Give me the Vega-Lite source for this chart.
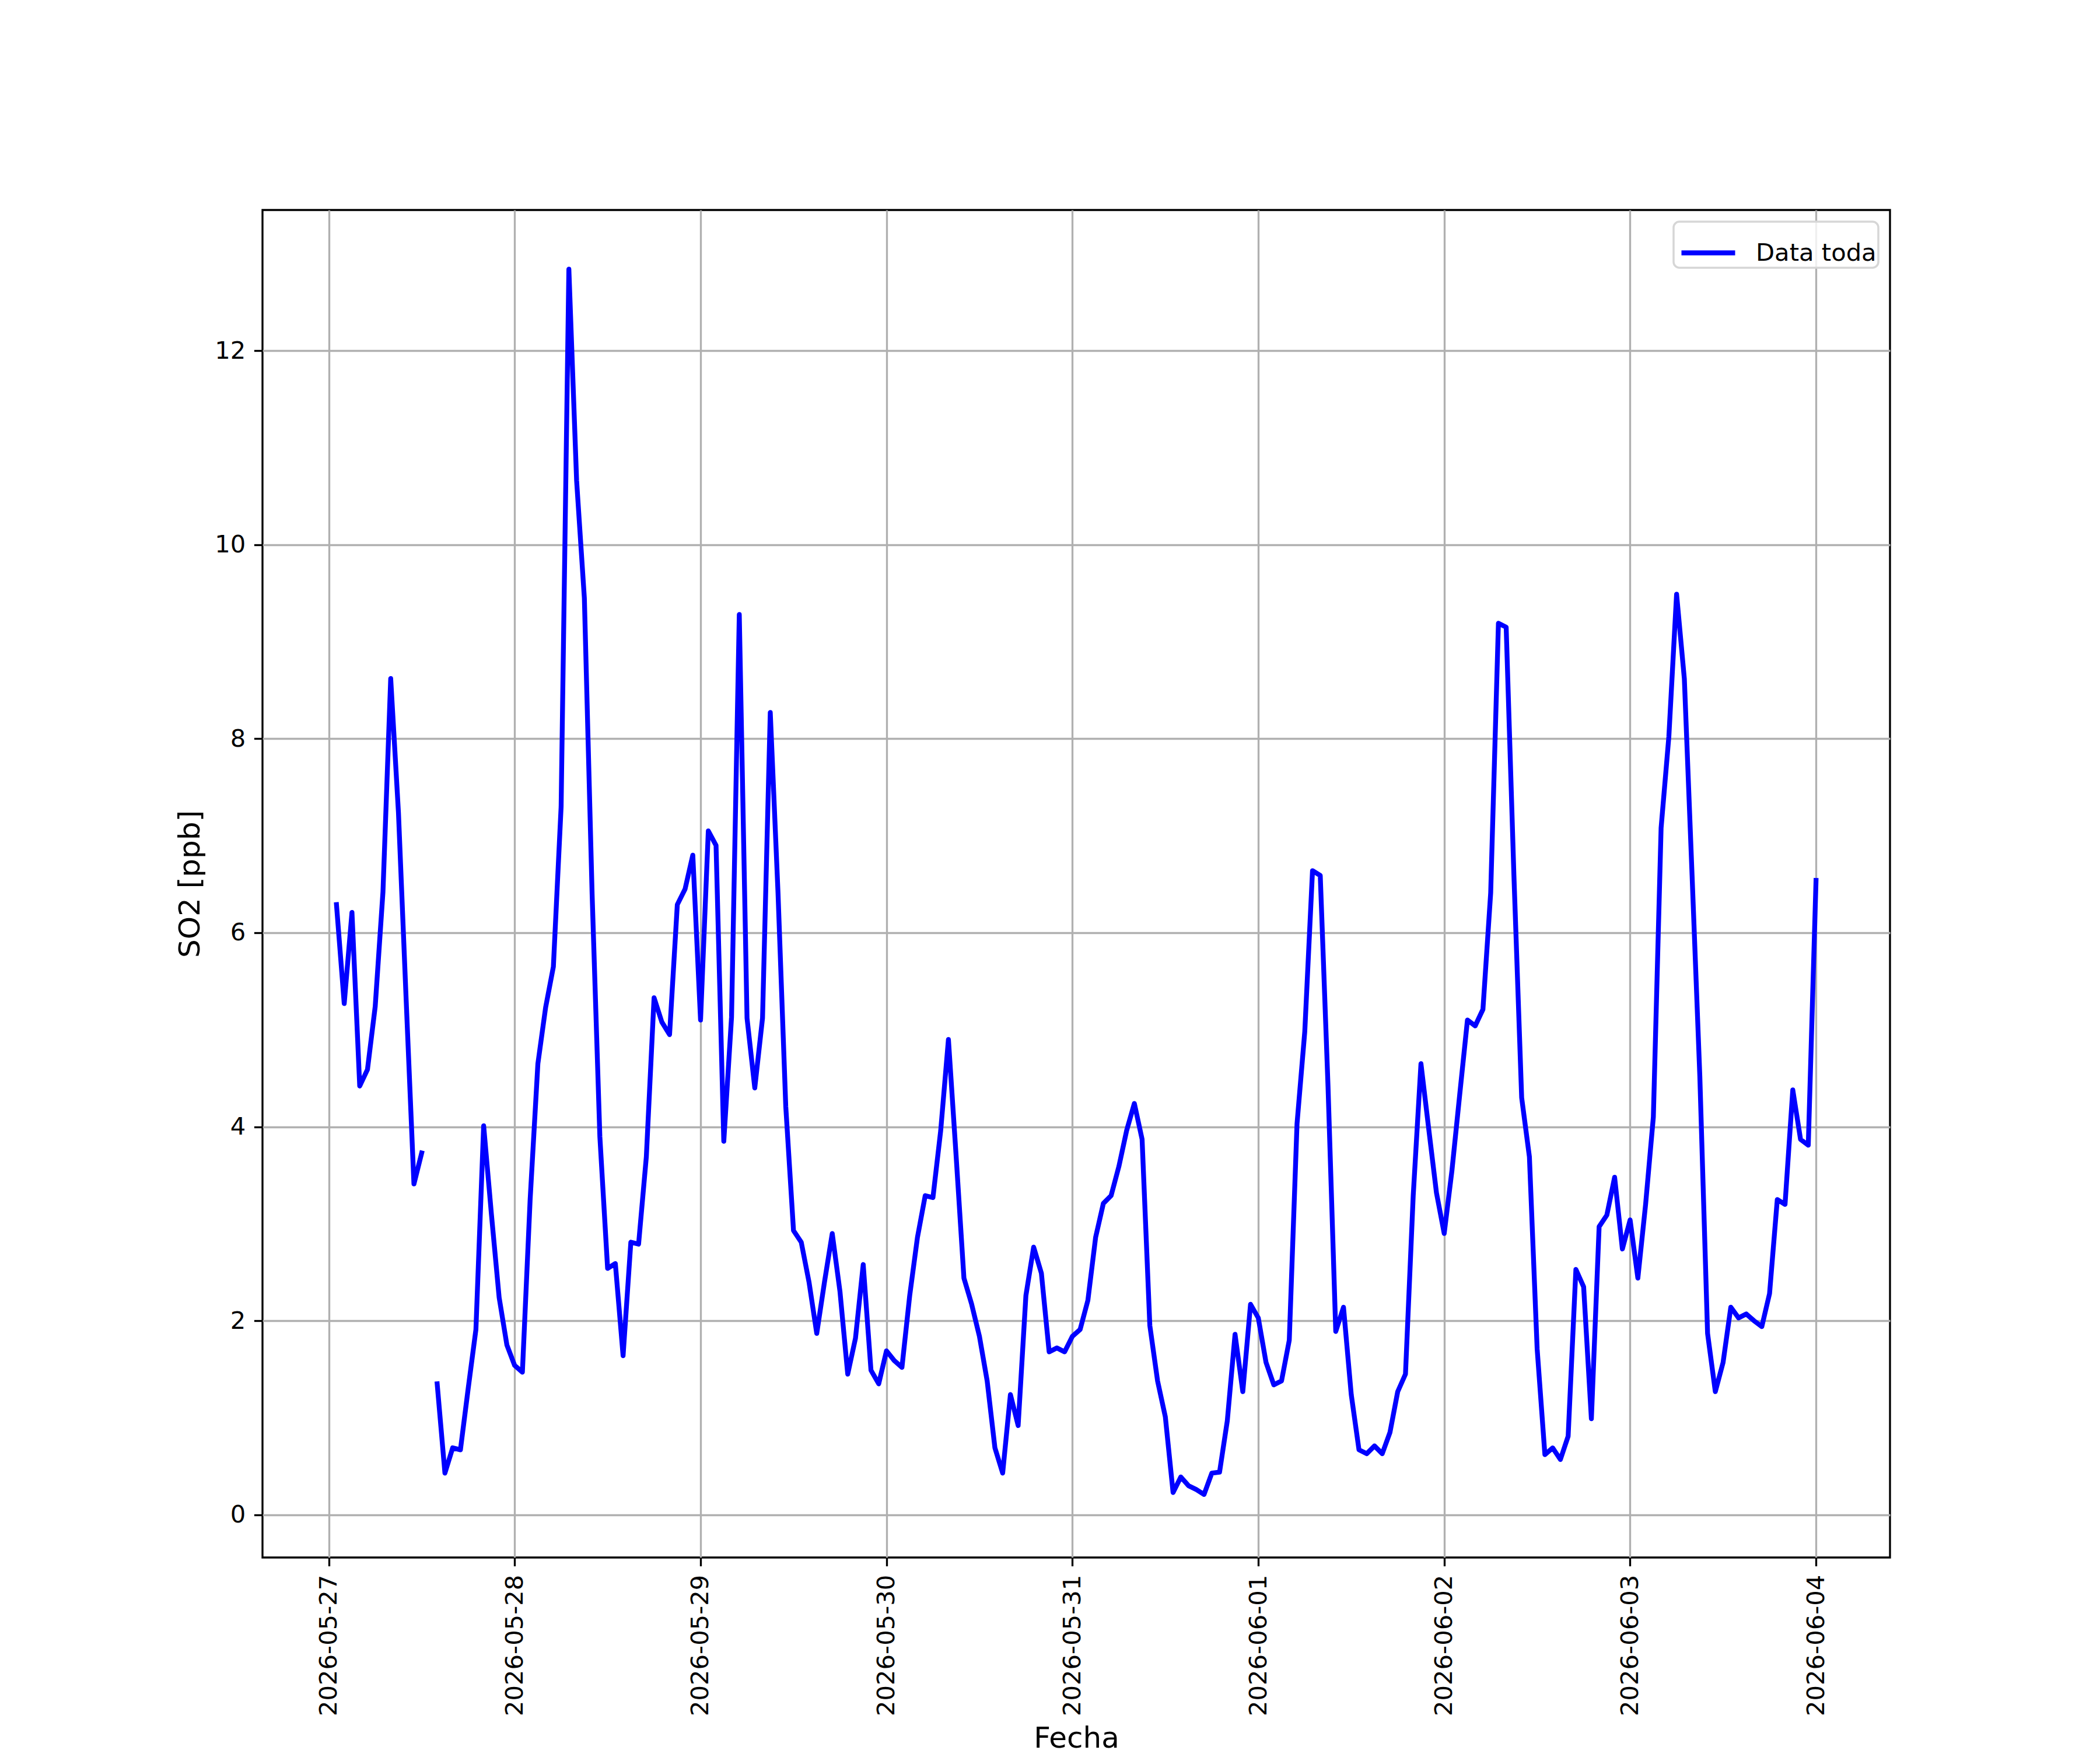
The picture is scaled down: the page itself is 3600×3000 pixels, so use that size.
{
  "$schema": "https://vega.github.io/schema/vega-lite/v6.json",
  "width": 2790,
  "height": 2310,
  "autosize": {"type": "none"},
  "padding": {"left": 450, "top": 360, "right": 360, "bottom": 330},
  "background": "white",
  "data": {
    "values": [
      {"t": "2026-05-27T01:00", "so2": 6.29},
      {"t": "2026-05-27T02:00", "so2": 5.27},
      {"t": "2026-05-27T03:00", "so2": 6.21},
      {"t": "2026-05-27T04:00", "so2": 4.42},
      {"t": "2026-05-27T05:00", "so2": 4.59},
      {"t": "2026-05-27T06:00", "so2": 5.24},
      {"t": "2026-05-27T07:00", "so2": 6.42},
      {"t": "2026-05-27T08:00", "so2": 8.62},
      {"t": "2026-05-27T09:00", "so2": 7.24},
      {"t": "2026-05-27T10:00", "so2": 5.30},
      {"t": "2026-05-27T11:00", "so2": 3.41},
      {"t": "2026-05-27T12:00", "so2": 3.73},
      {"t": "2026-05-27T13:00", "so2": null},
      {"t": "2026-05-27T14:00", "so2": 1.35},
      {"t": "2026-05-27T15:00", "so2": 0.43},
      {"t": "2026-05-27T16:00", "so2": 0.69},
      {"t": "2026-05-27T17:00", "so2": 0.67},
      {"t": "2026-05-27T18:00", "so2": 1.30},
      {"t": "2026-05-27T19:00", "so2": 1.91},
      {"t": "2026-05-27T20:00", "so2": 4.01},
      {"t": "2026-05-27T21:00", "so2": 3.10},
      {"t": "2026-05-27T22:00", "so2": 2.24},
      {"t": "2026-05-27T23:00", "so2": 1.75},
      {"t": "2026-05-28T00:00", "so2": 1.54},
      {"t": "2026-05-28T01:00", "so2": 1.47},
      {"t": "2026-05-28T02:00", "so2": 3.25},
      {"t": "2026-05-28T03:00", "so2": 4.65},
      {"t": "2026-05-28T04:00", "so2": 5.23},
      {"t": "2026-05-28T05:00", "so2": 5.65},
      {"t": "2026-05-28T06:00", "so2": 7.30},
      {"t": "2026-05-28T07:00", "so2": 12.84},
      {"t": "2026-05-28T08:00", "so2": 10.66},
      {"t": "2026-05-28T09:00", "so2": 9.45},
      {"t": "2026-05-28T10:00", "so2": 6.40},
      {"t": "2026-05-28T11:00", "so2": 3.90},
      {"t": "2026-05-28T12:00", "so2": 2.54},
      {"t": "2026-05-28T13:00", "so2": 2.59},
      {"t": "2026-05-28T14:00", "so2": 1.64},
      {"t": "2026-05-28T15:00", "so2": 2.81},
      {"t": "2026-05-28T16:00", "so2": 2.79},
      {"t": "2026-05-28T17:00", "so2": 3.69},
      {"t": "2026-05-28T18:00", "so2": 5.33},
      {"t": "2026-05-28T19:00", "so2": 5.08},
      {"t": "2026-05-28T20:00", "so2": 4.95},
      {"t": "2026-05-28T21:00", "so2": 6.29},
      {"t": "2026-05-28T22:00", "so2": 6.45},
      {"t": "2026-05-28T23:00", "so2": 6.80},
      {"t": "2026-05-29T00:00", "so2": 5.10},
      {"t": "2026-05-29T01:00", "so2": 7.05},
      {"t": "2026-05-29T02:00", "so2": 6.90},
      {"t": "2026-05-29T03:00", "so2": 3.85},
      {"t": "2026-05-29T04:00", "so2": 5.13},
      {"t": "2026-05-29T05:00", "so2": 9.28},
      {"t": "2026-05-29T06:00", "so2": 5.12},
      {"t": "2026-05-29T07:00", "so2": 4.40},
      {"t": "2026-05-29T08:00", "so2": 5.12},
      {"t": "2026-05-29T09:00", "so2": 8.27},
      {"t": "2026-05-29T10:00", "so2": 6.41},
      {"t": "2026-05-29T11:00", "so2": 4.21},
      {"t": "2026-05-29T12:00", "so2": 2.93},
      {"t": "2026-05-29T13:00", "so2": 2.81},
      {"t": "2026-05-29T14:00", "so2": 2.40},
      {"t": "2026-05-29T15:00", "so2": 1.87},
      {"t": "2026-05-29T16:00", "so2": 2.40},
      {"t": "2026-05-29T17:00", "so2": 2.90},
      {"t": "2026-05-29T18:00", "so2": 2.30},
      {"t": "2026-05-29T19:00", "so2": 1.45},
      {"t": "2026-05-29T20:00", "so2": 1.82},
      {"t": "2026-05-29T21:00", "so2": 2.58},
      {"t": "2026-05-29T22:00", "so2": 1.49},
      {"t": "2026-05-29T23:00", "so2": 1.35},
      {"t": "2026-05-30T00:00", "so2": 1.69},
      {"t": "2026-05-30T01:00", "so2": 1.59},
      {"t": "2026-05-30T02:00", "so2": 1.52},
      {"t": "2026-05-30T03:00", "so2": 2.26},
      {"t": "2026-05-30T04:00", "so2": 2.86},
      {"t": "2026-05-30T05:00", "so2": 3.29},
      {"t": "2026-05-30T06:00", "so2": 3.27},
      {"t": "2026-05-30T07:00", "so2": 3.96},
      {"t": "2026-05-30T08:00", "so2": 4.90},
      {"t": "2026-05-30T09:00", "so2": 3.69},
      {"t": "2026-05-30T10:00", "so2": 2.44},
      {"t": "2026-05-30T11:00", "so2": 2.17},
      {"t": "2026-05-30T12:00", "so2": 1.84},
      {"t": "2026-05-30T13:00", "so2": 1.38},
      {"t": "2026-05-30T14:00", "so2": 0.69},
      {"t": "2026-05-30T15:00", "so2": 0.43},
      {"t": "2026-05-30T16:00", "so2": 1.24},
      {"t": "2026-05-30T17:00", "so2": 0.92},
      {"t": "2026-05-30T18:00", "so2": 2.26},
      {"t": "2026-05-30T19:00", "so2": 2.76},
      {"t": "2026-05-30T20:00", "so2": 2.49},
      {"t": "2026-05-30T21:00", "so2": 1.68},
      {"t": "2026-05-30T22:00", "so2": 1.72},
      {"t": "2026-05-30T23:00", "so2": 1.68},
      {"t": "2026-05-31T00:00", "so2": 1.84},
      {"t": "2026-05-31T01:00", "so2": 1.91},
      {"t": "2026-05-31T02:00", "so2": 2.21},
      {"t": "2026-05-31T03:00", "so2": 2.86},
      {"t": "2026-05-31T04:00", "so2": 3.21},
      {"t": "2026-05-31T05:00", "so2": 3.29},
      {"t": "2026-05-31T06:00", "so2": 3.59},
      {"t": "2026-05-31T07:00", "so2": 3.96},
      {"t": "2026-05-31T08:00", "so2": 4.24},
      {"t": "2026-05-31T09:00", "so2": 3.87},
      {"t": "2026-05-31T10:00", "so2": 1.95},
      {"t": "2026-05-31T11:00", "so2": 1.38},
      {"t": "2026-05-31T12:00", "so2": 1.01},
      {"t": "2026-05-31T13:00", "so2": 0.23},
      {"t": "2026-05-31T14:00", "so2": 0.39},
      {"t": "2026-05-31T15:00", "so2": 0.30},
      {"t": "2026-05-31T16:00", "so2": 0.26},
      {"t": "2026-05-31T17:00", "so2": 0.21},
      {"t": "2026-05-31T18:00", "so2": 0.43},
      {"t": "2026-05-31T19:00", "so2": 0.44},
      {"t": "2026-05-31T20:00", "so2": 0.97},
      {"t": "2026-05-31T21:00", "so2": 1.86},
      {"t": "2026-05-31T22:00", "so2": 1.27},
      {"t": "2026-05-31T23:00", "so2": 2.17},
      {"t": "2026-06-01T00:00", "so2": 2.03},
      {"t": "2026-06-01T01:00", "so2": 1.57},
      {"t": "2026-06-01T02:00", "so2": 1.34},
      {"t": "2026-06-01T03:00", "so2": 1.38},
      {"t": "2026-06-01T04:00", "so2": 1.80},
      {"t": "2026-06-01T05:00", "so2": 4.03},
      {"t": "2026-06-01T06:00", "so2": 4.98},
      {"t": "2026-06-01T07:00", "so2": 6.64},
      {"t": "2026-06-01T08:00", "so2": 6.59},
      {"t": "2026-06-01T09:00", "so2": 4.42},
      {"t": "2026-06-01T10:00", "so2": 1.89},
      {"t": "2026-06-01T11:00", "so2": 2.14},
      {"t": "2026-06-01T12:00", "so2": 1.24},
      {"t": "2026-06-01T13:00", "so2": 0.67},
      {"t": "2026-06-01T14:00", "so2": 0.63},
      {"t": "2026-06-01T15:00", "so2": 0.71},
      {"t": "2026-06-01T16:00", "so2": 0.63},
      {"t": "2026-06-01T17:00", "so2": 0.85},
      {"t": "2026-06-01T18:00", "so2": 1.27},
      {"t": "2026-06-01T19:00", "so2": 1.45},
      {"t": "2026-06-01T20:00", "so2": 3.29},
      {"t": "2026-06-01T21:00", "so2": 4.65},
      {"t": "2026-06-01T22:00", "so2": 3.98},
      {"t": "2026-06-01T23:00", "so2": 3.32},
      {"t": "2026-06-02T00:00", "so2": 2.90},
      {"t": "2026-06-02T01:00", "so2": 3.55},
      {"t": "2026-06-02T02:00", "so2": 4.33},
      {"t": "2026-06-02T03:00", "so2": 5.10},
      {"t": "2026-06-02T04:00", "so2": 5.04},
      {"t": "2026-06-02T05:00", "so2": 5.21},
      {"t": "2026-06-02T06:00", "so2": 6.41},
      {"t": "2026-06-02T07:00", "so2": 9.19},
      {"t": "2026-06-02T08:00", "so2": 9.15},
      {"t": "2026-06-02T09:00", "so2": 6.59},
      {"t": "2026-06-02T10:00", "so2": 4.30},
      {"t": "2026-06-02T11:00", "so2": 3.69},
      {"t": "2026-06-02T12:00", "so2": 1.71},
      {"t": "2026-06-02T13:00", "so2": 0.62},
      {"t": "2026-06-02T14:00", "so2": 0.69},
      {"t": "2026-06-02T15:00", "so2": 0.57},
      {"t": "2026-06-02T16:00", "so2": 0.81},
      {"t": "2026-06-02T17:00", "so2": 2.53},
      {"t": "2026-06-02T18:00", "so2": 2.35},
      {"t": "2026-06-02T19:00", "so2": 0.99},
      {"t": "2026-06-02T20:00", "so2": 2.97},
      {"t": "2026-06-02T21:00", "so2": 3.09},
      {"t": "2026-06-02T22:00", "so2": 3.48},
      {"t": "2026-06-02T23:00", "so2": 2.74},
      {"t": "2026-06-03T00:00", "so2": 3.04},
      {"t": "2026-06-03T01:00", "so2": 2.44},
      {"t": "2026-06-03T02:00", "so2": 3.20},
      {"t": "2026-06-03T03:00", "so2": 4.10},
      {"t": "2026-06-03T04:00", "so2": 7.08},
      {"t": "2026-06-03T05:00", "so2": 8.02},
      {"t": "2026-06-03T06:00", "so2": 9.49},
      {"t": "2026-06-03T07:00", "so2": 8.62},
      {"t": "2026-06-03T08:00", "so2": 6.59},
      {"t": "2026-06-03T09:00", "so2": 4.52},
      {"t": "2026-06-03T10:00", "so2": 1.87},
      {"t": "2026-06-03T11:00", "so2": 1.27},
      {"t": "2026-06-03T12:00", "so2": 1.57},
      {"t": "2026-06-03T13:00", "so2": 2.14},
      {"t": "2026-06-03T14:00", "so2": 2.03},
      {"t": "2026-06-03T15:00", "so2": 2.07},
      {"t": "2026-06-03T16:00", "so2": 2.00},
      {"t": "2026-06-03T17:00", "so2": 1.94},
      {"t": "2026-06-03T18:00", "so2": 2.28},
      {"t": "2026-06-03T19:00", "so2": 3.25},
      {"t": "2026-06-03T20:00", "so2": 3.20},
      {"t": "2026-06-03T21:00", "so2": 4.38},
      {"t": "2026-06-03T22:00", "so2": 3.87},
      {"t": "2026-06-03T23:00", "so2": 3.81},
      {"t": "2026-06-04T00:00", "so2": 6.54}
    ]
  },
  "mark": {
    "type": "line",
    "strokeWidth": 8.3,
    "strokeJoin": "round",
    "strokeCap": "square",
    "invalid": "break-paths-show-domains"
  },
  "encoding": {
    "x": {
      "field": "t",
      "type": "temporal",
      "title": "Fecha",
      "scale": {
        "domain": [
          {"year": 2026, "month": 5, "date": 26, "hours": 15, "minutes": 27},
          {"year": 2026, "month": 6, "date": 4, "hours": 9, "minutes": 33}
        ]
      },
      "axis": {
        "format": "%Y-%m-%d",
        "tickCount": {"interval": "day", "step": 1},
        "labelAngle": 270,
        "labelOverlap": false,
        "labelFlush": false,
        "labelLimit": 0,
        "titleY": 285,
        "titleBaseline": "top"
      }
    },
    "y": {
      "field": "so2",
      "type": "quantitative",
      "title": "SO2 [ppb]",
      "scale": {"domain": [-0.44, 13.45], "nice": false, "zero": false},
      "axis": {"values": [0, 2, 4, 6, 8, 10, 12], "titlePadding": 16}
    },
    "color": {
      "datum": "Data toda",
      "type": "nominal",
      "scale": {"range": ["#0000ff"]},
      "legend": {
        "title": null,
        "orient": "top-right",
        "offset": 20,
        "padding": 3,
        "symbolOffset": 6,
        "symbolType": "stroke",
        "symbolSize": 8464,
        "symbolStrokeWidth": 8.3,
        "labelOffset": 31,
        "labelLimit": 0,
        "labelFontSize": 41.7,
        "labelFont": "DejaVu Sans",
        "labelColor": "black",
        "fillColor": "rgba(255,255,255,0.8)",
        "strokeColor": "#d6d6d6",
        "cornerRadius": 10,
        "encode": {
          "legend": {"update": {"strokeWidth": {"value": 3.5}}}
        }
      }
    }
  },
  "config": {
    "font": "DejaVu Sans",
    "view": {"stroke": "black", "strokeWidth": 3.33},
    "axis": {
      "domain": false,
      "grid": true,
      "gridColor": "#b0b0b0",
      "gridWidth": 3.33,
      "gridOpacity": 1,
      "ticks": true,
      "tickColor": "black",
      "tickWidth": 3.33,
      "tickSize": 14.6,
      "labelPadding": 14.6,
      "labelFont": "DejaVu Sans",
      "labelFontSize": 41.7,
      "labelColor": "black",
      "titleFont": "DejaVu Sans",
      "titleFontSize": 50,
      "titleFontWeight": "normal",
      "titleColor": "black"
    }
  }
}
